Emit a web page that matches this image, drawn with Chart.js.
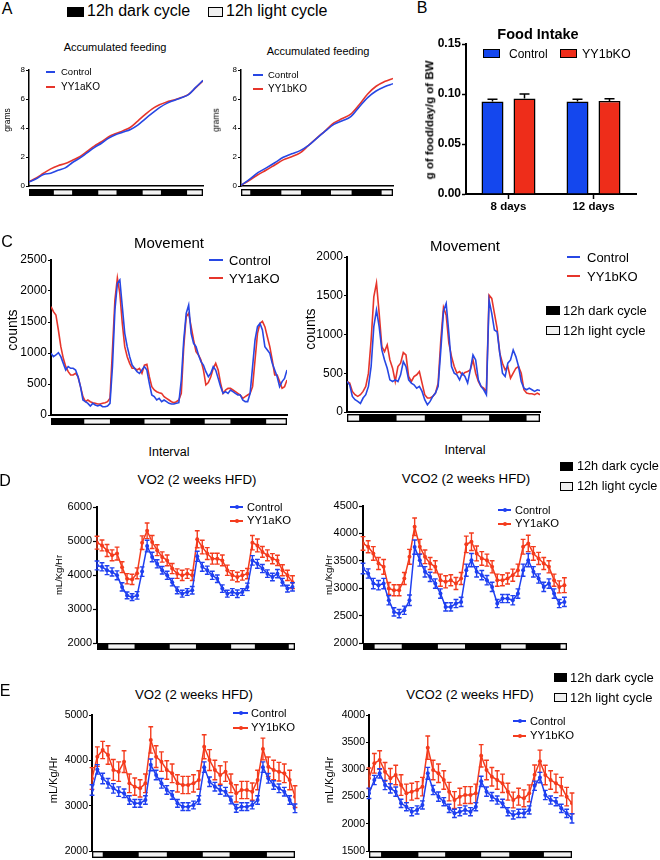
<!DOCTYPE html>
<html><head><meta charset="utf-8">
<script src="https://cdn.jsdelivr.net/npm/chart.js@4.4.1/dist/chart.umd.min.js"></script>
<style>
html,body{margin:0;padding:0;background:#fff;}
#root{position:relative;width:660px;height:860px;overflow:hidden;font-family:"Liberation Sans",Arial,Helvetica,sans-serif;color:#000;}
#root canvas{position:absolute;}
.t{position:absolute;white-space:nowrap;line-height:1;}
.bx{position:absolute;box-sizing:border-box;}
</style></head><body><div id="root"></div>
<script>
// ================= DATA =================
// Panel A – accumulated feeding (grams), sampled every 4 h
const feedHoursA1 = [0,4,8,12,16,20,24,28,32,36,40,44,48,52,56,60,64,68,72,76,80,84,88,92,96];
const feedA1Control = [0.28,0.50,0.80,0.88,1.08,1.25,1.62,1.92,2.28,2.65,2.95,3.30,3.55,3.72,3.90,4.20,4.62,5.02,5.40,5.70,5.90,6.08,6.30,6.80,7.28];
const feedA1KO      = [0.30,0.55,0.88,1.18,1.40,1.55,1.78,2.02,2.38,2.75,3.05,3.40,3.62,3.82,4.05,4.48,4.92,5.32,5.60,5.80,5.93,6.10,6.32,6.78,7.25];
const feedHoursA2 = [0,4,8,12,16,20,24,28,32,36,40,44,48,52,56,60,64,68,72];
const feedA2Control = [0.05,0.45,0.92,1.25,1.60,1.98,2.22,2.44,2.80,3.30,3.80,4.25,4.50,4.78,5.45,6.10,6.55,6.85,7.05];
const feedA2KO      = [0.05,0.40,0.78,1.10,1.45,1.80,2.02,2.28,2.80,3.32,3.82,4.35,4.65,4.95,5.60,6.35,6.88,7.20,7.42];
const feedYTicks = [0,2,4,6,8];

// Light/dark cycle segments: [start h, end h, 'D'|'L']
const cycleA1 = [[0,13,'D'],[13,24.5,'L'],[24.5,37.5,'D'],[37.5,49,'L'],[49,62,'D'],[62,73.5,'L'],[73.5,86.5,'D'],[86.5,96,'L']];
const cycleA2 = [[0,5,'L'],[5,18.5,'D'],[18.5,29,'L'],[29,42,'D'],[42,53,'L'],[53,66,'D'],[66,72,'L']];

// Panel B – food intake
const foodLabels = ['8 days','12 days'];
const foodControl = [0.0925,0.0925];
const foodControlErr = [0.0022,0.0022];
const foodKO = [0.0955,0.0930];
const foodKOErr = [0.0045,0.0022];

// Panel C – movement counts, hourly
const moveC1Control = [995,941,968,1005,941,833,726,780,753,753,
 726,618,457,242,215,188,145,188,161,145,
 161,134,134,145,188,780,1693,2123,2177,1747,
 1317,1102,941,806,753,699,672,726,780,726,
 511,323,296,242,269,215,242,215,188,177,
 177,188,199,565,1210,1640,1774,1317,1156,1102,
 968,860,806,699,618,672,780,726,591,457,
 349,376,349,403,376,349,323,323,242,215,
 215,349,780,1210,1425,1478,1371,1102,1048,995,
 833,726,618,457,538,591,726];
const moveC1KO = [1747,1667,1613,1371,1102,914,780,699,645,645,
 672,618,457,296,215,242,215,199,188,177,
 177,188,199,215,269,1048,1855,2210,1962,1478,
 1102,941,833,753,753,726,753,672,806,817,
 618,457,403,376,360,349,296,269,242,215,
 199,215,242,349,1102,1586,1640,1425,1210,1021,
 968,887,726,484,522,618,753,833,726,511,
 349,403,430,430,403,376,349,323,269,296,
 323,349,457,887,1317,1478,1510,1425,1263,1102,
 887,645,645,538,430,457,565];
const moveC2Control = [394,351,201,158,137,110,180,223,330,587,
 1101,1315,1101,801,672,565,415,394,415,394,
 480,651,587,415,373,351,308,330,266,158,
 94,137,201,244,330,801,1300,1400,1015,587,
 501,480,415,501,458,373,544,737,672,415,
 330,287,223,1443,1272,1058,1036,758,501,458,
 630,672,801,715,587,394,308,287,308,287,
 266,287,278];
const moveC2KO = [394,373,266,223,201,223,266,330,501,929,
 1486,1665,1272,843,780,865,672,565,394,587,
 630,767,737,458,394,458,480,522,373,223,
 180,180,201,244,373,929,1350,1250,887,715,
 587,501,522,480,510,522,544,672,501,394,
 330,308,266,1508,1465,1272,1079,758,630,544,
 587,437,501,565,587,501,287,244,236,236,
 223,244,223];
const cycleC1 = [[0,13,'D'],[13,24.5,'L'],[24.5,37.5,'D'],[37.5,49,'L'],[49,62,'D'],[62,73.5,'L'],[73.5,87,'D'],[87,96,'L']];
const cycleC2 = [[0,5,'L'],[5,18,'D'],[18,29.5,'L'],[29.5,42.5,'D'],[42.5,53.5,'L'],[53.5,66.5,'D'],[66.5,72,'L']];

// Panel D – YY1aKO, 2 h samples
const hoursD = [0,2,4,6,8,10,12,14,16,18,20,22,24,26,28,30,32,34,36,38,40,42,44,46,48,50,52,54,56,58,60,62,64,66,68,70,72,74,76,78];
const vo2D_Control = [4280,4240,4140,4090,3990,3650,3400,3350,3400,4100,4850,4530,4330,4140,3990,3790,3550,3450,3500,3550,4550,4240,4140,3990,3890,3600,3450,3500,3450,3500,3650,4430,4330,4190,4040,3940,4040,3790,3600,3650];
const vo2D_ControlErr = [130,120,130,120,130,120,100,100,110,140,170,140,120,110,120,110,100,100,100,110,150,130,120,120,110,110,100,100,110,100,110,140,130,120,110,110,120,110,100,120];
const vo2D_KO = [4950,4870,4720,4580,4630,4230,3890,3870,4050,4950,5300,4970,4730,4530,4430,4190,4040,3990,4040,3990,5050,4820,4630,4480,4480,4430,4140,3990,3940,3990,4040,4950,4870,4680,4580,4480,4430,4140,3990,3790];
const vo2D_KOErr = [190,160,175,160,190,160,150,150,160,200,230,190,160,150,160,150,140,150,140,150,250,200,175,160,160,160,150,140,140,140,150,210,190,160,160,150,150,160,150,190];
const vco2D_Control = [3360,3268,3085,3055,3085,2780,2567,2537,2598,2780,3750,3512,3299,3207,3085,2902,2659,2659,2720,2750,3329,3512,3299,3238,3146,3024,2720,2811,2811,2780,2902,3329,3512,3299,3177,3024,3085,2902,2720,2750];
const vco2D_ControlErr = [95,85,95,85,95,85,75,75,75,95,130,110,95,85,85,85,75,75,75,85,110,120,95,85,85,85,75,75,75,85,85,110,120,95,85,85,85,85,75,85];
const vco2D_KO = [3817,3756,3634,3451,3390,2994,2963,2963,3177,3573,4122,3756,3573,3451,3390,3146,3116,3146,3085,3177,3800,3848,3634,3543,3512,3390,3146,3146,3177,3238,3329,3756,3817,3634,3543,3451,3390,3146,3024,3055];
const vco2D_KOErr = [125,110,125,110,135,110,100,100,110,135,160,135,125,110,110,110,110,100,110,110,150,160,135,125,110,110,110,100,100,110,110,135,150,125,110,110,110,110,110,135];
const cycleD = [[0,4,'D'],[4,15.5,'L'],[15.5,28.5,'D'],[28.5,40,'L'],[40,53,'D'],[53,63.5,'L'],[63.5,76,'D'],[76,79,'L']];

// Panel E – YY1bKO, 2 h samples
const hoursE = [0,2,4,6,8,10,12,14,16,18,20,22,24,26,28,30,32,34,36,38,40,42,44,46,48,50,52,54,56,58,60,62,64,66,68,70,72,74,76];
const vo2E_Control = [3346,3800,3600,3493,3382,3309,3272,3125,3051,3051,3125,3900,3676,3493,3346,3235,3051,2978,2978,3015,3125,3850,3529,3419,3346,3309,3125,2941,2978,2978,3015,3125,3850,3603,3456,3382,3309,3125,2941];
const vo2E_ControlErr = [115,105,115,105,105,105,95,95,85,85,95,130,105,105,95,95,85,85,85,85,95,115,105,95,95,95,85,85,85,85,85,95,115,105,95,95,95,95,95];
const vo2E_KO = [3600,4081,4228,4118,3787,3750,3971,3493,3419,3382,3493,4450,4081,3971,3787,3713,3493,3456,3456,3493,3566,4300,4007,3787,3676,3750,3493,3272,3346,3346,3309,3566,4250,3860,3787,3750,3713,3566,3199];
const vo2E_KOErr = [240,215,190,205,230,215,240,205,190,190,205,290,240,215,205,205,190,190,190,190,205,265,230,215,205,215,205,190,190,190,190,215,240,215,215,205,205,215,240];
const vco2E_Control = [2560,2805,2928,2713,2652,2591,2376,2315,2223,2254,2346,2928,2621,2499,2407,2284,2192,2223,2254,2223,2315,2780,2591,2499,2437,2376,2223,2162,2192,2192,2254,2700,2850,2529,2437,2407,2284,2192,2100];
const vco2E_ControlErr = [95,85,85,85,85,85,75,75,75,75,75,110,85,85,75,75,75,75,75,75,75,95,85,75,75,75,75,75,75,75,75,85,95,85,75,75,75,75,85];
const vco2E_KO = [2836,3111,3173,2958,2836,2897,2713,2560,2591,2621,2683,3400,2989,2928,2805,2591,2437,2499,2529,2529,2560,3250,2989,2866,2805,2744,2591,2437,2499,2468,2560,2900,3150,2897,2805,2744,2683,2499,2376];
const vco2E_KOErr = [190,180,170,170,180,180,190,170,155,155,170,215,180,170,170,170,155,155,155,155,170,205,180,170,170,170,155,145,155,155,155,180,205,180,170,170,170,170,190];
const cycleE1 = [[0,4.5,'L'],[4.5,17,'D'],[17,28.5,'L'],[28.5,41,'D'],[41,52,'L'],[52,65,'D'],[65,76,'L']];
const cycleE2 = [[0,5,'L'],[5,18,'D'],[18,29,'L'],[29,41.5,'D'],[41.5,53,'L'],[53,65,'D'],[65,76,'L']];

// ================= STYLE =================
const FONT = '"Liberation Sans", Arial, Helvetica, sans-serif';
const LBLUE = '#2747e4', LRED = '#e6352b';
const MBLUE = '#1f3ff0', MRED = '#f43b1d';
const BBLUE = '#1447ee', BRED = '#ee2d1a';
Chart.defaults.font.family = FONT;

const root = document.getElementById('root');

function mkCanvas(l,t,w,h){
  const c=document.createElement('canvas');
  c.width=w;c.height=h;
  c.style.left=l+'px';c.style.top=t+'px';c.style.width=w+'px';c.style.height=h+'px';
  root.appendChild(c);return c;
}
function txt(s,x,y,size,o){
  o=o||{};
  const d=document.createElement('div');d.className='t';d.textContent=s;
  d.style.left=x+'px';d.style.top=y+'px';d.style.fontSize=size+'px';
  if(o.bold)d.style.fontWeight='bold';
  let tr=o.anchor==='l'?'translate(0,-50%)':'translate(-50%,-50%)';
  if(o.rot)tr+=' rotate(-90deg)';
  d.style.transform=tr;root.appendChild(d);return d;
}
function rect(x1,y1,x2,y2,fill,border){
  const d=document.createElement('div');d.className='bx';
  d.style.left=x1+'px';d.style.top=y1+'px';d.style.width=(x2-x1)+'px';d.style.height=(y2-y1)+'px';
  d.style.background=fill;if(border)d.style.border=border;root.appendChild(d);return d;
}
function legLine(x1,x2,y,color,w,dot){
  rect(x1,y-w/2,x2,y+w/2,color);
  if(dot){const c=(x1+x2)/2;const d=rect(c-2,y-2,c+2,y+2,color);d.style.borderRadius='50%';}
}
function pts(xs,ys){return ys.map((v,i)=>({x:xs[i],y:v}));}
function idx(arr){return arr.map((_,i)=>i);}

const cycleBarPlugin={id:'cycleBar',afterDraw(chart,args,opts){
  if(!opts||!opts.segs)return;
  const ctx=chart.ctx,xs=chart.scales.x,a=chart.chartArea;
  const y0=a.bottom+(opts.gap||0),hh=opts.h||7;
  const segs=opts.segs;
  const xL=xs.getPixelForValue(segs[0][0]),xR=xs.getPixelForValue(segs[segs.length-1][1]);
  ctx.save();ctx.fillStyle='#000';ctx.fillRect(xL,y0,xR-xL,hh);
  segs.forEach(s=>{
    if(s[2]!=='L')return;
    const p1=xs.getPixelForValue(s[0]),p2=xs.getPixelForValue(s[1]);
    ctx.fillStyle='#f3f3f3';ctx.fillRect(p1+1.3,y0+1.4,p2-p1-2.6,hh-2.8);
  });
  ctx.restore();
}};
const errPlugin={id:'errBars',afterDatasetDraw(chart,args){
  const ds=chart.data.datasets[args.index];if(!ds.err)return;
  const meta=args.meta,ys=chart.scales[meta.yAxisID],ctx=chart.ctx;
  ctx.save();ctx.strokeStyle=ds.errColor||ds.borderColor;ctx.lineWidth=ds.errW||1;
  ctx.beginPath();
  meta.data.forEach((el,i)=>{
    const raw=ds.data[i];const v=(raw!==null&&typeof raw==='object')?raw.y:raw;const e=ds.err[i];
    const x=el.x,cw=ds.capW||2;
    const yt=ys.getPixelForValue(v+e);
    const yb=ds.upOnly?el.y:ys.getPixelForValue(v-e);
    ctx.moveTo(x,yb);ctx.lineTo(x,yt);
    ctx.moveTo(x-cw,yt);ctx.lineTo(x+cw,yt);
    if(!ds.upOnly){ctx.moveTo(x-cw,yb);ctx.lineTo(x+cw,yb);}
  });
  ctx.stroke();ctx.restore();
}};

function timeChart(o){
  const yW=o.yW,padT=12,padR=8,xH=o.xH;
  const cl=o.l-yW,ct=o.t-padT,w=o.r+padR-cl,h=o.b+xH-ct;
  const cv=mkCanvas(cl,ct,w,h);
  return new Chart(cv,{type:'line',data:{datasets:o.datasets},options:{
    responsive:false,animation:false,devicePixelRatio:1,
    layout:{padding:{top:padT,right:padR,left:0,bottom:0}},
    plugins:{legend:{display:false},tooltip:{enabled:false},cycleBar:{segs:o.cycle,gap:o.gap,h:o.barH}},
    scales:{
      x:{type:'linear',min:0,max:o.xmax,afterFit:s=>{s.height=xH;},
         ticks:{display:false},grid:{display:false,drawTicks:false},
         border:{display:o.xBorder!==false,color:'#000',width:o.xbw||1.5}},
      y:{type:'linear',min:o.ymin,max:o.ymax,afterFit:s=>{s.width=yW;},
         afterBuildTicks:o.yTicks?(s=>{s.ticks=o.yTicks.map(v=>({value:v}));}):undefined,
         ticks:{stepSize:o.step,color:'#000',padding:o.tp,autoSkip:false,font:{family:FONT,size:o.fs},callback:v=>String(v)},
         grid:{drawOnChartArea:false,drawTicks:true,tickLength:o.tl,tickColor:'#000',tickWidth:1.2,color:'#000'},
         border:{color:'#000',width:o.ybw||2}}
    }},plugins:[cycleBarPlugin,errPlugin]});
}
function lineDs(xs,ys,color,extra){
  return Object.assign({data:pts(xs,ys),borderColor:color,backgroundColor:color,borderWidth:1.6,pointRadius:0,tension:0,fill:false},extra||{});
}
function markDs(xs,ys,err,color){
  return {data:pts(xs,ys),err:err,borderColor:color,backgroundColor:color,borderWidth:1.5,pointRadius:2,
    pointBackgroundColor:color,pointBorderWidth:0,tension:0,fill:false,capW:2.4,errW:1.4};
}

// ================= PANEL A =================
timeChart({l:29,t:70,r:203,b:186,yW:29,xH:12,xmax:96,ymin:0,ymax:8,step:2,yTicks:feedYTicks,fs:8,tl:3,tp:1,ybw:1.5,xbw:1.5,
  cycle:cycleA1,gap:3,barH:7,datasets:[
    lineDs(feedHoursA1,feedA1Control,LBLUE,{cubicInterpolationMode:'monotone'}),
    lineDs(feedHoursA1,feedA1KO,LRED,{cubicInterpolationMode:'monotone'})]});
timeChart({l:241,t:70,r:393,b:186,yW:25,xH:12,xmax:72,ymin:0,ymax:8,step:2,yTicks:feedYTicks,fs:8,tl:3,tp:1,ybw:1.5,xbw:1.5,
  cycle:cycleA2,gap:3,barH:7,datasets:[
    lineDs(feedHoursA2,feedA2Control,LBLUE,{cubicInterpolationMode:'monotone'}),
    lineDs(feedHoursA2,feedA2KO,LRED,{cubicInterpolationMode:'monotone'})]});

// ================= PANEL B =================
(function(){
  const l=466,t=44,r=636,b=194,yW=45,padT=10,padR=6,xH=24;
  const cl=l-yW,ct=t-padT,w=r+padR-cl,h=b+xH-ct;
  new Chart(mkCanvas(cl,ct,w,h),{type:'bar',data:{labels:foodLabels,datasets:[
    {data:foodControl,err:foodControlErr,backgroundColor:BBLUE,borderColor:'#000',borderWidth:1.5,upOnly:true,capW:5,errColor:'#000',errW:1.5},
    {data:foodKO,err:foodKOErr,backgroundColor:BRED,borderColor:'#000',borderWidth:1.5,upOnly:true,capW:5,errColor:'#000',errW:1.5}]},
   options:{responsive:false,animation:false,devicePixelRatio:1,
    layout:{padding:{top:padT,right:padR,left:0,bottom:0}},
    datasets:{bar:{categoryPercentage:0.753,barPercentage:0.6875}},
    plugins:{legend:{display:false},tooltip:{enabled:false}},
    scales:{
      x:{afterFit:s=>{s.height=xH;},ticks:{color:'#000',font:{family:FONT,size:11.5,weight:'bold'},padding:1},
         grid:{offset:false,drawOnChartArea:false,drawTicks:true,tickLength:5,tickColor:'#000',tickWidth:1.5},
         border:{color:'#000',width:2}},
      y:{min:0,max:0.15,afterFit:s=>{s.width=yW;},
         ticks:{stepSize:0.05,color:'#000',font:{family:FONT,size:12,weight:'bold'},padding:1,callback:v=>Number(v).toFixed(2)},
         grid:{drawOnChartArea:false,drawTicks:true,tickLength:4,tickColor:'#000',tickWidth:1.5},
         border:{color:'#000',width:2}}}},
   plugins:[errPlugin]});
})();

// ================= PANEL C =================
const hC1=idx(moveC1Control), hC2=idx(moveC2Control);
timeChart({l:51,t:260,r:287,b:415,yW:51,xH:12,xmax:96,ymin:0,ymax:2500,step:500,fs:12,tl:3,tp:1,ybw:2,xbw:2,
  cycle:cycleC1,gap:3,barH:7,datasets:[lineDs(hC1,moveC1Control,LBLUE),lineDs(hC1,moveC1KO,LRED)]});
timeChart({l:347,t:257,r:540,b:412,yW:40,xH:12,xmax:72,ymin:0,ymax:2000,step:500,fs:12,tl:3,tp:1,ybw:2,xbw:2,
  cycle:cycleC2,gap:2,barH:8,datasets:[lineDs(hC2,moveC2Control,LBLUE),lineDs(hC2,moveC2KO,LRED)]});

// ================= PANEL D =================
timeChart({l:97,t:507,r:295,b:643,yW:45,xH:9,xmax:79,ymin:2000,ymax:6000,step:1000,fs:11,tl:4,tp:1,ybw:2,xBorder:false,
  cycle:cycleD,gap:0,barH:7,datasets:[markDs(hoursD,vo2D_Control,vo2D_ControlErr,MBLUE),markDs(hoursD,vo2D_KO,vo2D_KOErr,MRED)]});
timeChart({l:363,t:506,r:567,b:643,yW:45,xH:9,xmax:79,ymin:2000,ymax:4500,step:500,fs:11,tl:4,tp:1,ybw:2,xBorder:false,
  cycle:cycleD,gap:0,barH:7,datasets:[markDs(hoursD,vco2D_Control,vco2D_ControlErr,MBLUE),markDs(hoursD,vco2D_KO,vco2D_KOErr,MRED)]});

// ================= PANEL E =================
timeChart({l:92,t:715,r:295,b:851,yW:40,xH:9,xmax:76,ymin:2000,ymax:5000,step:1000,fs:10.5,tl:3,tp:1,ybw:2,xBorder:false,
  cycle:cycleE1,gap:0,barH:7,datasets:[markDs(hoursE,vo2E_Control,vo2E_ControlErr,MBLUE),markDs(hoursE,vo2E_KO,vo2E_KOErr,MRED)]});
timeChart({l:369,t:715,r:572,b:851,yW:45,xH:9,xmax:76,ymin:1500,ymax:4000,step:500,fs:10.5,tl:3,tp:1,ybw:2,xBorder:false,
  cycle:cycleE2,gap:0,barH:7,datasets:[markDs(hoursE,vco2E_Control,vco2E_ControlErr,MBLUE),markDs(hoursE,vco2E_KO,vco2E_KOErr,MRED)]});

// ================= TEXT / LEGENDS =================
// panel letters
txt('A',7,9,16);txt('B',422,8,16);txt('C',7,242,16);txt('D',5,481,16);txt('E',5,691,16);

// top legend
rect(67,7,84,17,'#000');txt('12h dark cycle',87,11,16,{anchor:'l'});
rect(208,7,223,17,'#f0f0f0','1.5px solid #000');txt('12h light cycle',226,11,16,{anchor:'l'});

// A
txt('Accumulated feeding',115,47,11);txt('Accumulated feeding',318,51,11);
txt('grams',7,120,8.5,{rot:true});txt('grams',216,120,8.5,{rot:true});
legLine(46,55,72,LBLUE,1.6);txt('Control',61,72,9.5,{anchor:'l'});
legLine(46,55,87,LRED,1.6);txt('YY1aKO',61,87,10,{anchor:'l'});
legLine(253,263,75,LBLUE,1.6);txt('Control',268,75,9.5,{anchor:'l'});
legLine(253,263,89,LRED,1.6);txt('YY1bKO',268,89,10,{anchor:'l'});

// B
txt('Food Intake',538,34,14.5,{bold:true});
rect(483,49,500,58,BBLUE,'1.5px solid #000');txt('Control',509,54,12,{anchor:'l'});
rect(560,49,577,58,BRED,'1.5px solid #000');txt('YY1bKO',582,54,12.5,{anchor:'l'});
txt('g of food/day/g of BW',430,120,11.5,{bold:true,rot:true});

// C
txt('Movement',169,242,15);txt('Movement',465,245,15);
txt('counts',12,330,14,{rot:true});txt('counts',310,329,14,{rot:true});
txt('Interval',169,452,12.5);txt('Interval',465,450,12.5);
legLine(209,223,260,LBLUE,1.6);txt('Control',229,260,13,{anchor:'l'});
legLine(209,223,278,LRED,1.6);txt('YY1aKO',229,278,13,{anchor:'l'});
legLine(567,580,257,LBLUE,1.6);txt('Control',587,257,13,{anchor:'l'});
legLine(567,580,276,LRED,1.6);txt('YY1bKO',587,276,13,{anchor:'l'});
rect(546,306,560,315,'#000');txt('12h dark cycle',563,310,13,{anchor:'l'});
rect(546,326,560,335,'#f0f0f0','1.5px solid #000');txt('12h light cycle',563,330,13,{anchor:'l'});

// D
txt('VO2 (2 weeks HFD)',197,480,13.3);txt('VCO2 (2 weeks HFD)',466,479,13.3);
txt('mL/Kg/Hr',59,575,9.5,{rot:true});txt('mL/Kg/Hr',329,575,9.5,{rot:true});
legLine(230,243,507,MBLUE,1.4,true);txt('Control',247,507,11,{anchor:'l'});
legLine(230,243,521,MRED,1.4,true);txt('YY1aKO',247,521,11.3,{anchor:'l'});
legLine(498,511,510,MBLUE,1.4,true);txt('Control',515,510,11,{anchor:'l'});
legLine(498,511,524,MRED,1.4,true);txt('YY1aKO',515,524,11.3,{anchor:'l'});
rect(560,462,573,471,'#000');txt('12h dark cycle',577,466,12.7,{anchor:'l'});
rect(560,482,573,491,'#f0f0f0','1.5px solid #000');txt('12h light cycle',577,486,12.7,{anchor:'l'});

// E
txt('VO2 (2 weeks HFD)',194,695,13.2);txt('VCO2 (2 weeks HFD)',470,695,13.2);
txt('mL/Kg/Hr',53,780,11,{rot:true});txt('mL/Kg/Hr',329,780,11,{rot:true});
legLine(233,248,713,MBLUE,1.4,true);txt('Control',251,713,11,{anchor:'l'});
legLine(233,248,728,MRED,1.4,true);txt('YY1bKO',251,728,11.3,{anchor:'l'});
legLine(513,526,721,MBLUE,1.4,true);txt('Control',530,721,11,{anchor:'l'});
legLine(513,526,736,MRED,1.4,true);txt('YY1bKO',530,736,11.3,{anchor:'l'});
rect(554,673,567,682,'#000');txt('12h dark cycle',570,677,13,{anchor:'l'});
rect(554,693,567,702,'#f0f0f0','1.5px solid #000');txt('12h light cycle',570,697,13,{anchor:'l'});
</script></body></html>
